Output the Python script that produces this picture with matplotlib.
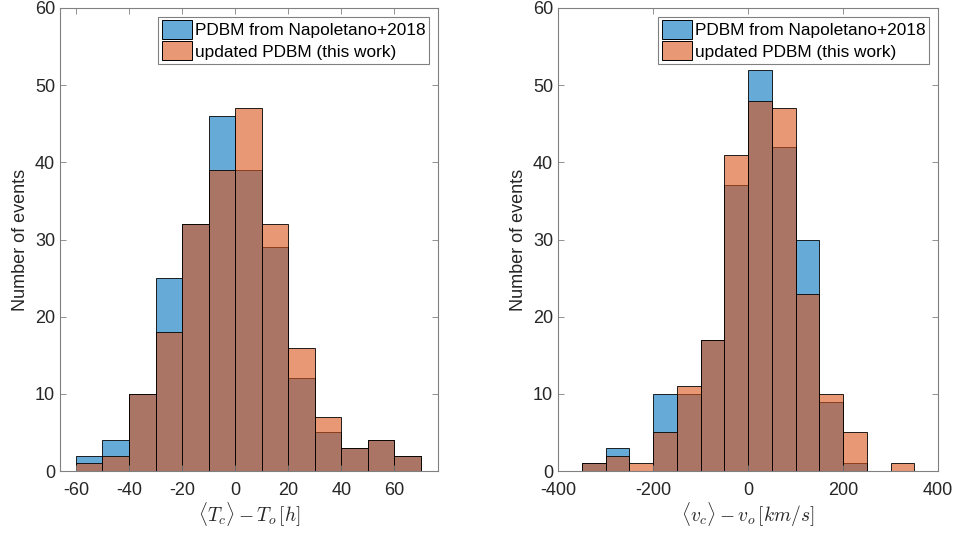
import numpy as np
import matplotlib
matplotlib.use('Agg')
import matplotlib.pyplot as plt
from matplotlib.colors import to_rgba
from matplotlib.patches import Patch

plt.rcParams['font.family'] = ['Liberation Sans', 'DejaVu Sans']
plt.rcParams['mathtext.fontset'] = 'cm'
plt.rcParams['axes.unicode_minus'] = False

# time difference histogram, bins of 10 h
t_edges = np.arange(-60, 71, 10)
t_napoletano = [2, 4, 10, 25, 32, 46, 39, 29, 12, 5, 3, 4, 2]
t_updated = [1, 2, 10, 18, 32, 39, 47, 32, 16, 7, 3, 4, 2]

# speed difference histogram, bins of 50 km/s
v_edges = np.arange(-350, 351, 50)
v_napoletano = [1, 3, 0, 10, 10, 17, 37, 52, 42, 30, 9, 1, 0, 0]
v_updated = [1, 2, 1, 5, 11, 17, 41, 48, 47, 23, 10, 5, 0, 1]

labels = ['PDBM from Napoletano+2018', 'updated PDBM (this work)']
blue = (0.0, 0.447, 0.741)
orange = (0.85, 0.325, 0.098)
axcol = '#808080'
txtcol = '#262626'


def draw_hist(ax, edges, counts_a, counts_b):
    w = np.diff(edges)
    for counts, c in [(counts_a, blue), (counts_b, orange)]:
        ax.bar(edges[:-1], counts, width=w, align='edge',
               facecolor=to_rgba(c, 0.6), edgecolor='k', linewidth=0.6)
    ax.set_ylim(0, 60)
    ax.set_yticks(np.arange(0, 61, 10))
    ax.set_ylabel('Number of events', fontsize=13, color=txtcol)
    ax.tick_params(direction='in', top=True, right=True, labelsize=13,
                   colors=axcol, labelcolor=txtcol, length=4, width=0.6)
    ax.tick_params(axis='x', pad=8)
    for sp in ax.spines.values():
        sp.set_color(axcol)
        sp.set_linewidth(0.8)
    handles = [Patch(facecolor=to_rgba(c, 0.6), edgecolor='k', linewidth=0.7)
               for c in (blue, orange)]
    leg = ax.legend(handles, labels, loc='upper right', fontsize=12.4,
                    fancybox=False, framealpha=1, borderaxespad=0.5,
                    handlelength=1.75, handleheight=1.3, handletextpad=0.2,
                    labelspacing=0.15, borderpad=0.2)
    leg.get_frame().set_edgecolor(axcol)
    leg.get_frame().set_linewidth(0.8)


fig = plt.figure(figsize=(9.58, 5.33), dpi=100)
ax1 = fig.add_axes([60 / 958, 1 - 471 / 533, 378 / 958, 463 / 533])
ax2 = fig.add_axes([558 / 958, 1 - 471 / 533, 380 / 958, 463 / 533])

draw_hist(ax1, t_edges, t_napoletano, t_updated)
ax1.set_xlim(-66.0, 76.4)
ax1.set_xticks(np.arange(-60, 61, 20))
ax1.set_xlabel(r'$\langle T_c\rangle - T_o\,[h]$', fontsize=14,
               color=txtcol, labelpad=1)

draw_hist(ax2, v_edges, v_napoletano, v_updated)
ax2.set_xlim(-400, 400)
ax2.set_xticks(np.arange(-400, 401, 200))
ax2.set_xlabel(r'$\langle v_c\rangle - v_o\,[km/s]$', fontsize=14,
               color=txtcol, labelpad=1)

fig.savefig('out.png', dpi=100)
